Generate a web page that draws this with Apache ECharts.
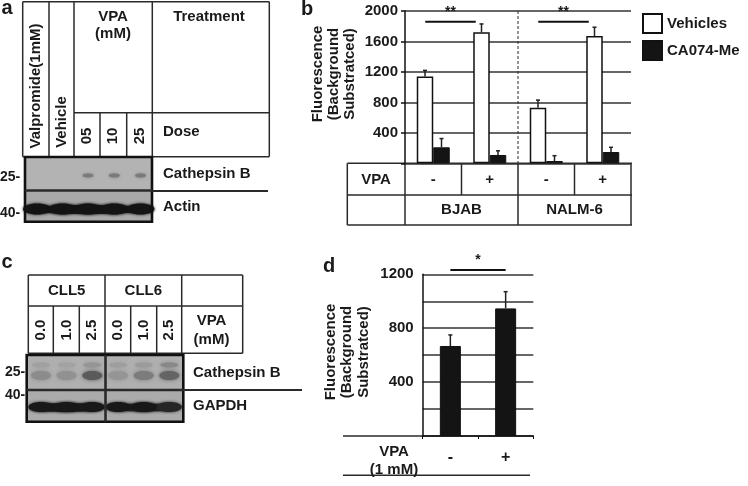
<!DOCTYPE html>
<html><head><meta charset="utf-8">
<script src="https://cdn.jsdelivr.net/npm/echarts@6/dist/echarts.min.js"></script>
<style>html,body{margin:0;padding:0;background:#fff}#c{width:748px;height:486px}</style>
</head><body><div id="c"></div>
<script>
// ---- Panel b data ----
const bCategories = ['BJAB -', 'BJAB +', 'NALM-6 -', 'NALM-6 +'];
const bVpa = ['-', '+', '-', '+'];
const bCells = ['BJAB', 'NALM-6'];
const bVehicles = [1140, 1720, 730, 1672];
const bVehiclesErr = [80, 110, 100, 115];
const bCA074 = [210, 109, 30, 148];
const bCA074Err = [115, 55, 70, 62];
const bSig = [[0, 1, 1860, '**'], [2, 3, 1860, '**']];
// ---- Panel d data ----
const dCategories = ['-', '+'];
const dValues = [668, 947];
const dErr = [82, 124];
const dSig = [[0, 1, 1232, '*']];
// ---- Panel a / c labels ----
const aLanes = ['Valpromide(1mM)', 'Vehicle', '05', '10', '25'];
const cGroups = ['CLL5', 'CLL6'];
const cLanes = ['0.0', '1.0', '2.5', '0.0', '1.0', '2.5'];

const FONT = '"Liberation Sans", Arial, sans-serif';
const TXT = '#1a1a1a';
const LC = '#2a2a2a';
const G = [];
function L(x1, y1, x2, y2, w, dash) {
  G.push({type: 'line', silent: true, shape: {x1, y1, x2, y2},
    style: {stroke: LC, lineWidth: w || 1.5, lineDash: dash || null}});
}
function T(text, x, y, o) {
  o = o || {};
  G.push({type: 'text', silent: true, x, y, rotation: o.rot || 0,
    style: {text, x: 0, y: 0, fill: TXT, font: 'bold ' + (o.size || 15) + 'px ' + FONT,
      align: o.align || 'center', verticalAlign: 'middle', lineHeight: o.lh || null}});
}
function R(x, y, w, h, fill) {
  G.push({type: 'rect', silent: true, shape: {x, y, width: w, height: h}, style: {fill}});
}
function Band(cx, cy, rx, ry, fill, blur) {
  G.push({type: 'ellipse', silent: true, shape: {cx, cy, rx, ry},
    style: {fill, shadowBlur: blur || 2, shadowColor: fill}});
}
function Box(x, y, w, h, lw) {
  G.push({type: 'rect', silent: true, shape: {x, y, width: w, height: h},
    style: {fill: 'none', stroke: '#111', lineWidth: lw}});
}

// ================= Panel a =================
T('a', 7, 8, {size: 20});
L(22.7, 1.7, 269.3, 1.7); L(22.7, 156.7, 269.3, 156.7);
L(22.7, 1.7, 22.7, 156.7); L(269.3, 1.7, 269.3, 156.7);
L(49, 1.7, 49, 156.7); L(74, 1.7, 74, 156.7); L(152.3, 1.7, 152.3, 156.7);
L(74, 112.7, 269.3, 112.7);
L(100, 112.7, 100, 156.7); L(126.7, 112.7, 126.7, 156.7);
const aLaneX = [36, 61.5, 87, 113.3, 139.5];
T(aLanes[0], aLaneX[0], 86, {rot: Math.PI / 2});
T(aLanes[1], aLaneX[1], 122, {rot: Math.PI / 2});
for (let i = 2; i < 5; i++) T(aLanes[i], aLaneX[i], 136, {rot: Math.PI / 2});
T('VPA', 113, 17); T('(mM)', 113, 34);
T('Treatment', 209, 17);
T('Dose', 163, 132, {align: 'left'});
// blot a
R(25, 157, 127, 33.5, '#b3b3b3');
R(25, 190.5, 127, 31, '#a9a9a9');
for (let i = 2; i < 5; i++) Band(aLaneX[i] + 1, 175.5, 5.5, 2, '#7a7a7a', 3);
Band(88, 209.5, 60, 4.5, '#1a1a1a', 3);
for (let i = 0; i < 5; i++) Band(aLaneX[i] + 1, 209, 14, 5.5, '#141414', 3);
Box(25, 157, 127, 64.7, 2.6);
L(25, 190.5, 152, 190.5, 2.6);
L(152, 191, 268, 191, 2);
T('Cathepsin B', 163, 174, {align: 'left'});
T('Actin', 163, 207, {align: 'left'});
T('25-', 0, 177, {align: 'left', size: 14});
T('40-', 0, 213, {align: 'left', size: 14});

// ================= Panel c =================
T('c', 7, 262, {size: 20});
L(28.3, 275, 242.7, 275); L(28.3, 306, 242.7, 306); L(28.3, 353.3, 242.7, 353.3);
L(28.3, 275, 28.3, 353.3); L(105, 275, 105, 353.3); L(181.7, 275, 181.7, 353.3); L(242.7, 275, 242.7, 353.3);
[53.3, 79.3, 130.7, 156.7].forEach(x => L(x, 306, x, 353.3));
T(cGroups[0], 66.7, 291); T(cGroups[1], 143.3, 291);
const cLaneX = [41, 66.5, 92.3, 118, 143.7, 169.3];
cLanes.forEach((t, i) => T(t, cLaneX[i], 330, {rot: Math.PI / 2}));
T('VPA', 211.5, 321); T('(mM)', 211.5, 340);
// blot c
R(26.7, 355, 156.6, 35, '#b0b0b0');
R(26.7, 390, 156.6, 31.7, '#ababab');
const cUpper = ['#a0a0a0', '#a2a2a2', '#959595', '#9e9e9e', '#9b9b9b', '#888888'];
const cLower = ['#8c8c8c', '#919191', '#5a5a5a', '#959595', '#7c7c7c', '#646464'];
cLaneX.forEach((x, i) => {
  Band(x, 365, 9, 2.5, cUpper[i], 4);
  Band(x, 375.5, 10, 4.5, cLower[i], 4);
});
Band(66, 407.5, 37, 4.5, '#1c1c1c', 3);
Band(144, 407.5, 36, 4, '#222', 3);
cLaneX.forEach((x, i) => Band(x, 407, 12.5, 5, i === 5 ? '#262626' : '#181818', 3));
Box(26.7, 355, 156.6, 66.7, 2.6);
L(26.7, 390, 183.3, 390, 2.6);
L(105.5, 355, 105.5, 421.7, 2.6);
L(183, 390, 302, 390, 2);
T('Cathepsin B', 193, 373, {align: 'left'});
T('GAPDH', 193, 406, {align: 'left'});
T('25-', 5, 372, {align: 'left', size: 14});
T('40-', 5, 395, {align: 'left', size: 14});

// ================= Panel b extras =================
T('b', 307, 9, {size: 20});
T('Fluorescence\n(Background\nSubstratced)', 333.5, 74, {rot: Math.PI / 2, lh: 16});
const bLeft = 405, bCat = 56.5;
L(347.3, 163.3, 632, 163.3); L(347.3, 195, 632, 195); L(347.3, 225, 632, 225);
L(347.3, 163.3, 347.3, 225);
for (let i = 0; i <= 4; i++) {
  const x = bLeft + bCat * i;
  if (i % 2 === 0) L(x, 163.3, x, 225); else L(x, 163.3, x, 195);
}
L(518, 11, 518, 163.3, 1, [3, 2]);
T('VPA', 376, 179.5);
bVpa.forEach((t, i) => T(t, bLeft + bCat * (i + 0.5), 179.5));
bCells.forEach((t, i) => T(t, bLeft + bCat * (2 * i + 1), 210));

// ================= Panel d extras =================
T('d', 329, 266, {size: 20});
T('Fluorescence\n(Background\nSubstratced)', 347, 352, {rot: Math.PI / 2, lh: 16.5});
L(343, 436, 423, 436);
L(343, 475.3, 530, 475.3);
T('VPA', 394, 452); T('(1 mM)', 394, 470);

// ---- custom renderers ----
function errRender(offset) {
  return function (params, api) {
    const c = api.coord([api.value(0), api.value(1)]);
    const t = api.coord([api.value(0), api.value(1) + api.value(2)]);
    const x = c[0] + offset;
    return {type: 'group', children: [
      {type: 'line', shape: {x1: x, y1: c[1], x2: x, y2: t[1]}, style: {stroke: '#222', lineWidth: 1.5}},
      {type: 'line', shape: {x1: x - 2, y1: t[1], x2: x + 2, y2: t[1]}, style: {stroke: '#222', lineWidth: 1.5}}
    ]};
  };
}
function sigRender(o1, o2) {
  return function (params, api) {
    const a = api.coord([api.value(0), api.value(2)]);
    const b = api.coord([api.value(1), api.value(2)]);
    const txt = api.value(3);
    return {type: 'group', children: [
      {type: 'line', shape: {x1: a[0] + o1, y1: a[1], x2: b[0] + o2, y2: a[1]}, style: {stroke: '#111', lineWidth: 2}},
      {type: 'text', x: (a[0] + o1 + b[0] + o2) / 2, y: a[1] - 3,
        style: {text: txt, fill: TXT, font: 'bold 14px ' + FONT, align: 'center', verticalAlign: 'bottom'}}
    ]};
  };
}

const chart = echarts.init(document.getElementById('c'), null, {renderer: 'canvas'});
const axisLbl = {color: TXT, fontWeight: 'bold', fontSize: 15, fontFamily: FONT};
chart.setOption({
  animation: false,
  backgroundColor: '#fff',
  textStyle: {fontFamily: FONT},
  grid: [
    {left: 405, top: 11, width: 226, height: 152.3},
    {left: 422.7, top: 274.3, width: 110.6, height: 161.7}
  ],
  legend: {
    data: ['Vehicles', 'CA074-Me'], orient: 'vertical', left: 642, top: 13, padding: 0,
    itemWidth: 19, itemHeight: 19, itemGap: 6, icon: 'rect',
    textStyle: {color: TXT, fontWeight: 'bold', fontSize: 15, fontFamily: FONT}
  },
  xAxis: [
    {gridIndex: 0, type: 'category', data: bCategories,
      axisLine: {show: false}, axisTick: {show: false}, axisLabel: {show: false}},
    {gridIndex: 1, type: 'category', data: dCategories,
      axisLine: {lineStyle: {color: '#111', width: 1.5}},
      axisTick: {show: true, length: 3, lineStyle: {color: '#111'}},
      axisLabel: {margin: 14, fontSize: 16, color: TXT, fontWeight: 'bold', fontFamily: FONT}}
  ],
  yAxis: [
    {gridIndex: 0, type: 'value', min: 0, max: 2000, interval: 400,
      axisLine: {show: true, lineStyle: {color: '#111', width: 1.5}},
      axisTick: {show: true, length: 4, lineStyle: {color: '#111', width: 1.5}},
      splitLine: {lineStyle: {color: '#333', width: 1.5}},
      axisLabel: Object.assign({margin: 7, formatter: v => v === 0 ? '' : v}, axisLbl)},
    {gridIndex: 1, type: 'value', min: 0, max: 1200, interval: 200,
      axisLine: {show: true, lineStyle: {color: '#111', width: 1.5}},
      axisTick: {show: false},
      splitLine: {lineStyle: {color: '#333', width: 1.5}},
      axisLabel: Object.assign({margin: 9, formatter: v => (v > 0 && v % 400 === 0) ? v : ''}, axisLbl)}
  ],
  series: [
    {name: 'Vehicles', type: 'bar', xAxisIndex: 0, yAxisIndex: 0, data: bVehicles,
      barWidth: 16.5, barGap: '0%',
      itemStyle: {color: '#fff', borderColor: '#111', borderWidth: 1.5}},
    {name: 'CA074-Me', type: 'bar', xAxisIndex: 0, yAxisIndex: 0, data: bCA074,
      barWidth: 16.5, barGap: '0%',
      itemStyle: {color: '#141414', borderColor: '#111', borderWidth: 1}},
    {name: 'errV', type: 'custom', xAxisIndex: 0, yAxisIndex: 0, z: 5,
      renderItem: errRender(-8.25), encode: {x: 0, y: 1},
      data: bVehicles.map((v, i) => [i, v, bVehiclesErr[i]])},
    {name: 'errC', type: 'custom', xAxisIndex: 0, yAxisIndex: 0, z: 5,
      renderItem: errRender(8.25), encode: {x: 0, y: 1},
      data: bCA074.map((v, i) => [i, v, bCA074Err[i]])},
    {name: 'sigB', type: 'custom', xAxisIndex: 0, yAxisIndex: 0, z: 5, clip: false,
      renderItem: sigRender(-8, -14), encode: {x: 0, y: 2}, data: bSig},
    {name: 'dBar', type: 'bar', xAxisIndex: 1, yAxisIndex: 1, data: dValues, barWidth: 21,
      itemStyle: {color: '#141414', borderColor: '#111', borderWidth: 1}},
    {name: 'errD', type: 'custom', xAxisIndex: 1, yAxisIndex: 1, z: 5,
      renderItem: errRender(0), encode: {x: 0, y: 1},
      data: dValues.map((v, i) => [i, v, dErr[i]])},
    {name: 'sigD', type: 'custom', xAxisIndex: 1, yAxisIndex: 1, z: 5, clip: false,
      renderItem: sigRender(0, 0), encode: {x: 0, y: 2}, data: dSig}
  ],
  graphic: G
});
</script>
</body></html>
